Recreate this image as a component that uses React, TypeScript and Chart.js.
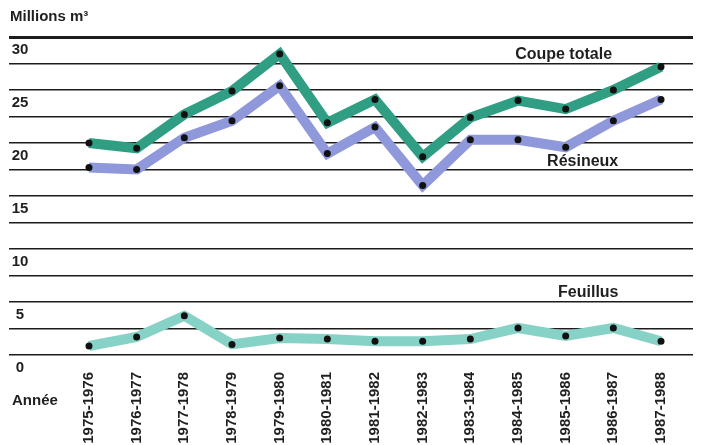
import React, { useEffect, useRef } from "react";
import { Chart, registerables } from "chart.js";

Chart.register(...registerables);

const categories = [
  "1975-1976", "1976-1977", "1977-1978", "1978-1979", "1979-1980", "1980-1981",
  "1981-1982", "1982-1983", "1983-1984", "1984-1985", "1985-1986", "1986-1987", "1987-1988",
];
const coupeTotale = [20.0, 19.5, 22.7, 24.9, 28.4, 21.9, 24.1, 18.7, 22.4, 24.0, 23.2, 25.0, 27.2];
const resineux = [17.7, 17.5, 20.5, 22.1, 25.4, 19.0, 21.5, 16.0, 20.3, 20.3, 19.6, 22.1, 24.1];
const feuillus = [0.85, 1.7, 3.7, 1.0, 1.6, 1.5, 1.3, 1.3, 1.5, 2.55, 1.8, 2.55, 1.3];
const yTickLabels = [0, 5, 10, 15, 20, 25, 30];

const FONT = "'Liberation Sans', Arial, sans-serif";

export default function App() {
  const ref = useRef<HTMLCanvasElement | null>(null);
  useEffect(() => {
    if (!ref.current) return;
    const toPts = (arr: number[]) => arr.map((v, i) => ({ x: i, y: v }));
    const textPlugin = {
      id: "texts",
      afterDraw(chart: any) {
        const ctx = chart.ctx;
        const ys = chart.scales.y;
        const xs = chart.scales.x;
        ctx.save();
        ctx.fillStyle = "#1f1f1f";
        ctx.font = `bold 15px ${FONT}`;
        ctx.textBaseline = "middle";
        ctx.textAlign = "center";
        yTickLabels.forEach((v) => {
          ctx.fillText(String(v), 20, ys.getPixelForValue(v) + 13);
        });
        ctx.textAlign = "left";
        ctx.fillText("Millions m³", 10, 17);
        ctx.fillText("Année", 12, 401);
        ctx.font = `bold 16px ${FONT}`;
        ctx.fillText("Coupe totale", xs.getPixelForValue(8.94), ys.getPixelForValue(28.35));
        ctx.fillText("Résineux", xs.getPixelForValue(9.61), ys.getPixelForValue(18.24));
        ctx.fillText("Feuillus", xs.getPixelForValue(9.84), ys.getPixelForValue(5.86));
        ctx.restore();
      },
    };
    const mk = (label: string, data: number[], color: string) => ({
      label,
      data: toPts(data),
      borderColor: color,
      backgroundColor: "#111",
      borderWidth: 10,
      pointRadius: 3.5,
      pointBackgroundColor: "#111",
      pointBorderWidth: 0,
      tension: 0,
      borderJoinStyle: "miter" as const,
      borderCapStyle: "butt" as const,
    });
    const chart = new Chart(ref.current, {
      type: "line",
      data: {
        datasets: [
          mk("Feuillus", feuillus, "#86d2c6"),
          mk("Résineux", resineux, "#8f98da"),
          mk("Coupe totale", coupeTotale, "#2f9e83"),
        ],
      },
      options: {
        responsive: false,
        animation: false,
        devicePixelRatio: 1,
        layout: { padding: { left: 9, right: 13, top: 37, bottom: 0 } },
        plugins: { legend: { display: false }, tooltip: { enabled: false }, title: { display: false } },
        scales: {
          x: {
            type: "linear",
            min: -1.678,
            max: 12.671,
            grid: { display: false },
            border: { display: false },
            afterBuildTicks: (s: any) => {
              s.ticks = categories.map((_, i) => ({ value: i }));
            },
            afterFit: (s: any) => {
              s.height = 90;
            },
            ticks: {
              autoSkip: false,
              maxRotation: 90,
              minRotation: 90,
              padding: 9,
              color: "#1f1f1f",
              font: { family: FONT, size: 15, weight: "bold" },
              callback: (v: any) => categories[v as number] ?? "",
            },
          },
          y: {
            min: 0,
            max: 30,
            afterBuildTicks: (s: any) => {
              const t = [];
              for (let i = 0; i <= 12; i++) t.push({ value: i * 2.5 });
              s.ticks = t;
            },
            afterFit: (s: any) => {
              s.width = 0;
            },
            ticks: { display: false },
            border: { display: false },
            grid: {
              color: "#1c1c1c",
              drawTicks: false,
              tickLength: 0,
              lineWidth: (c: any) => (c.tick && c.tick.value === 30 ? 3 : 1.6),
            },
          },
        },
      },
      plugins: [textPlugin],
    });
    return () => chart.destroy();
  }, []);
  return (
    <div style={{ position: "absolute", left: 0, top: 0, width: 706, height: 445, background: "#fff" }}>
      <canvas ref={ref} width={706} height={445} />
    </div>
  );
}
